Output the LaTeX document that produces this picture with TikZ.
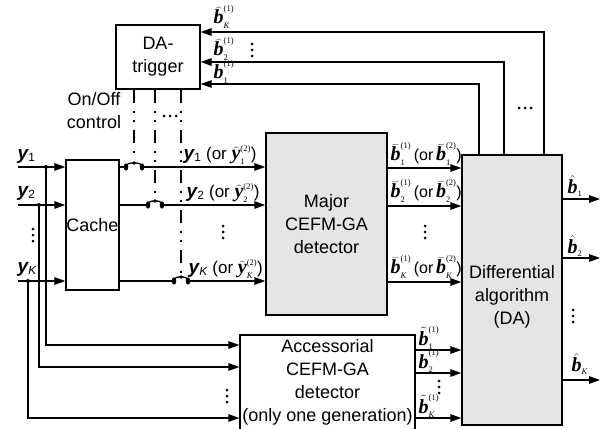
\documentclass[tikz,border=0pt]{standalone}
\usepackage{fontspec}
\setmainfont{Liberation Sans}
\newfontfamily\tms{Liberation Serif}
\usetikzlibrary{arrows.meta}
\newcommand{\vb}[4]{\ensuremath{#1{\mbox{\tms\fontsize{20}{20}\selectfont\bfseries\itshape #2}}^{\mbox{\tms\fontsize{8.5}{8.5}\selectfont (#3)}}_{\mbox{\tms\fontsize{8.5}{8.5}\selectfont #4}}}}
\newcommand{\hb}[1]{\ensuremath{\hat{\mbox{\tms\fontsize{20}{20}\selectfont\bfseries\itshape b}}_{\mbox{\tms\fontsize{8.5}{8.5}\selectfont #1}}}}
\newcommand{\yy}[1]{{\fontsize{19}{19}\selectfont\bfseries\itshape y}\textsubscript{#1}}
\newcommand{\vdts}[2]{\foreach \d in {-6,0,6} {\fill (#1,#2+\d) circle (1.5pt);}}
\newcommand{\hdts}[2]{\foreach \d in {-6,0,6} {\fill (#1+\d,#2) circle (1.5pt);}}
\newcommand{\swc}[3]{%
  \fill (#1,#3) ellipse (2.3pt and 3.6pt);
  \fill (#2,#3) ellipse (2.3pt and 3.6pt);
  \draw[line width=1.3pt] (#1,#3-2) .. controls (#1+3,#3-5) and (#2-3,#3-5) .. (#2,#3-2);
  \fill ({(#1+#2)/2},#3-4) circle (1.8pt);}
\begin{document}
\begin{tikzpicture}[x=1pt,y=-1pt,line width=1.4pt,
  arr/.style={-{Triangle[length=11pt,width=7.5pt]}},
  box/.style={draw,align=center,inner sep=0pt,font=\fontsize{18}{23}\selectfont},
  gbox/.style={box,fill=black!10},
  lab/.style={anchor=west,inner sep=0pt,font=\fontsize{17}{19}\selectfont},
  blab/.style={lab,font=\fontsize{16}{19}\selectfont},
  ctrl/.style={line width=2pt,dash pattern=on 13pt off 8pt on 2pt off 7pt on 2pt off 8pt}]
\useasboundingbox (0,0) rectangle (607,428);

% boxes
\node[box,minimum width=84,minimum height=64] (trig) at (158,57) {DA-\\trigger};
\node[box,minimum width=53,minimum height=130] (cache) at (92.5,225) {Cache};
\node[gbox,minimum width=121,minimum height=182] (major) at (326.5,224) {Major\\CEFM-GA\\detector};
\node[gbox,minimum width=100,minimum height=270] (DA) at (512,290) {\\[4pt]Differential\\algorithm\\(DA)};
\node[box,minimum width=175,minimum height=95] (acc) at (327.5,382.5) {Accessorial\\CEFM-GA\\detector\\(only one generation)};

% coordinates
\coordinate (i1) at (18,167); \coordinate (i2) at (18,205); \coordinate (iK) at (18,281);
\coordinate (b1) at (46,167); \coordinate (b2) at (39,205); \coordinate (bK) at (28,281);
\coordinate (a1) at (0,345); \coordinate (a2) at (0,367); \coordinate (aK) at (0,418);
\coordinate (s1a) at (126,167); \coordinate (s1b) at (142,167);
\coordinate (s2a) at (148,205); \coordinate (s2b) at (162,205);
\coordinate (sKa) at (174,281); \coordinate (sKb) at (188,281);
\coordinate (c1) at (134,158); \coordinate (c2) at (155,197); \coordinate (cK) at (181,274);
\coordinate (m1) at (0,168); \coordinate (m2) at (0,206); \coordinate (mK) at (0,282);
\coordinate (t1) at (0,350); \coordinate (t2) at (0,373); \coordinate (tK) at (0,418);
\coordinate (o1) at (600,199); \coordinate (o2) at (600,258); \coordinate (oK) at (600,380);
\coordinate (fb1) at (479,84); \coordinate (fb2) at (504,62); \coordinate (fbK) at (544,32);

% inputs
\draw[arr] (i1) -- (cache.west |- i1);
\draw[arr] (i2) -- (cache.west |- i2);
\draw[arr] (iK) -- (cache.west |- iK);
\draw[arr] (b1) |- (acc.west |- a1);
\draw[arr] (b2) |- (acc.west |- a2);
\draw[arr] (bK) |- (acc.west |- aK);
\fill (b1) circle (2pt); \fill (b2) circle (2pt); \fill (bK) circle (2pt);

% cache outputs with switches
\draw (cache.east |- s1a) -- (s1a); \draw[arr] (s1b) -- (major.west |- s1b);
\draw (cache.east |- s2a) -- (s2a); \draw[arr] (s2b) -- (major.west |- s2b);
\draw (cache.east |- sKa) -- (sKa); \draw[arr] (sKb) -- (major.west |- sKb);
\swc{126}{142}{167}
\swc{148}{162}{205}
\swc{174}{188}{281}

% control lines
\draw[ctrl] (trig.south -| c1) -- (c1);
\draw[ctrl] (trig.south -| c2) -- (c2);
\draw[ctrl] (trig.south -| cK) -- (cK);
\hdts{170}{116}

% major -> DA
\draw[arr] (major.east |- m1) -- (DA.west |- m1);
\draw[arr] (major.east |- m2) -- (DA.west |- m2);
\draw[arr] (major.east |- mK) -- (DA.west |- mK);

% acc -> DA
\draw[arr] (acc.east |- t1) -- (DA.west |- t1);
\draw[arr] (acc.east |- t2) -- (DA.west |- t2);
\draw[arr] (acc.east |- tK) -- (DA.west |- tK);

% DA outputs
\draw[arr] (DA.east |- o1) -- (o1);
\draw[arr] (DA.east |- o2) -- (o2);
\draw[arr] (DA.east |- oK) -- (oK);

% feedback
\draw[arr] (DA.north -| fb1) |- (trig.east |- fb1);
\draw[arr] (DA.north -| fb2) |- (trig.east |- fb2);
\draw[arr] (DA.north -| fbK) |- (trig.east |- fbK);
\hdts{525}{108}

% labels
\node[lab] (lfK) at (213,17) {\vb{\widehat}{b}{1}{\itshape K}};
\node[lab] (lf2) at (213,49) {\vb{\widehat}{b}{1}{2}};
\node[lab] (lf1) at (213,72) {\vb{\widehat}{b}{1}{1}};
\vdts{252}{50}
\node[align=center,inner sep=0pt,font=\fontsize{18}{23}\selectfont] (onoff) at (94,111) {On/Off\\control};

\node[lab] (in1) at (17,156) {\yy{1}};
\node[lab] (in2) at (17,193) {\yy{2}};
\node[lab] (inK) at (17,269) {\yy{\itshape K}};
\vdts{33}{235}

\node[lab] (ly1) at (183,155) {\yy{1} (or \vb{\widehat}{y}{2}{1})};
\node[lab] (ly2) at (186,193) {\yy{2} (or \vb{\widehat}{y}{2}{2})};
\node[lab] (lyK) at (188,269) {\yy{\itshape K} (or \vb{\widehat}{y}{2}{\itshape K})};
\vdts{223}{232}

\node[blab] (lb1) at (390,154) {\vb{\bar}{b}{1}{1}\,(or\,\vb{\bar}{b}{2}{1})};
\node[blab] (lb2) at (390,191) {\vb{\bar}{b}{1}{2}\,(or\,\vb{\bar}{b}{2}{2})};
\node[blab] (lbK) at (390,267) {\vb{\bar}{b}{1}{\itshape K}\,(or\,\vb{\bar}{b}{2}{\itshape K})};
\vdts{425}{232}

\node[lab] (lh1) at (567,186) {\hb{1}};
\node[lab] (lh2) at (567,246) {\hb{2}};
\node[lab] (lhK) at (571,364) {\hb{\itshape K}};
\vdts{573}{316}

\node[lab] (lt1) at (418,338) {\vb{\tilde}{b}{1}{1}};
\node[lab] (lt2) at (418,361) {\vb{\tilde}{b}{1}{2}};
\node[lab] (ltK) at (418,406) {\vb{\tilde}{b}{1}{\itshape K}};
\vdts{439}{387}
\vdts{227}{396}
\end{tikzpicture}
\end{document}
